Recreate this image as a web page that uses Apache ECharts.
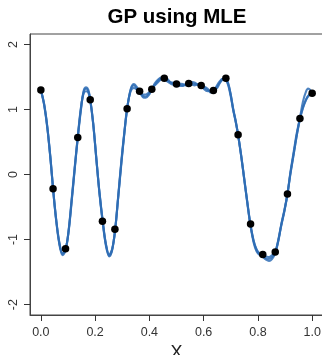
<!DOCTYPE html>
<html>
<head>
<meta charset="utf-8">
<script src="https://cdn.jsdelivr.net/npm/echarts@6/dist/echarts.min.js"></script>
<style>html,body{margin:0;padding:0;background:#fff}#c{width:322px;height:355px}</style>
</head>
<body>
<div id="c"></div>
<script>
// Observed data points (x = i/22)
var pointX = [0.000,0.045,0.091,0.136,0.182,0.227,0.273,0.318,0.364,0.409,0.455,0.500,0.545,0.591,0.636,0.682,0.727,0.773,0.818,0.864,0.909,0.955,1.000];
var pointY = [1.30,-0.22,-1.14,0.57,1.15,-0.72,-0.84,1.01,1.28,1.31,1.48,1.39,1.40,1.37,1.29,1.48,0.61,-0.76,-1.23,-1.19,-0.30,0.86,1.25];

// Fitted GP curves
var curveX = [0.000,0.012,0.024,0.036,0.045,0.056,0.068,0.080,0.091,0.102,0.114,0.125,0.136,0.148,0.158,0.167,0.175,0.182,0.193,0.205,0.216,0.228,0.240,0.252,0.263,0.274,0.285,0.297,0.308,0.318,0.331,0.343,0.355,0.364,0.376,0.387,0.398,0.409,0.420,0.432,0.443,0.454,0.466,0.477,0.489,0.500,0.511,0.523,0.534,0.545,0.557,0.568,0.580,0.591,0.602,0.614,0.625,0.636,0.648,0.659,0.670,0.680,0.690,0.700,0.709,0.718,0.727,0.739,0.750,0.761,0.772,0.784,0.795,0.807,0.819,0.830,0.841,0.852,0.864,0.875,0.886,0.898,0.909,0.920,0.932,0.943,0.955,0.966,0.977,0.985,0.993,1.000];
var curveA = [1.30,1.08,0.72,0.22,-0.22,-0.68,-1.05,-1.22,-1.16,-0.88,-0.38,0.10,0.57,1.02,1.27,1.32,1.28,1.15,0.78,0.22,-0.28,-0.72,-1.08,-1.25,-1.15,-0.84,-0.35,0.20,0.65,1.01,1.30,1.37,1.32,1.27,1.21,1.20,1.24,1.31,1.38,1.44,1.47,1.47,1.45,1.42,1.40,1.39,1.38,1.37,1.38,1.40,1.40,1.39,1.38,1.36,1.33,1.30,1.28,1.29,1.34,1.41,1.46,1.47,1.40,1.22,1.00,0.82,0.61,0.27,-0.08,-0.43,-0.76,-1.02,-1.16,-1.23,-1.26,-1.29,-1.30,-1.27,-1.20,-1.02,-0.78,-0.55,-0.30,0.02,0.32,0.60,0.86,1.03,1.15,1.21,1.24,1.25];
var curveB = [1.30,1.07,0.71,0.21,-0.22,-0.69,-1.07,-1.24,-1.17,-0.87,-0.36,0.12,0.58,1.04,1.25,1.28,1.26,1.14,0.77,0.21,-0.29,-0.74,-1.10,-1.26,-1.16,-0.84,-0.34,0.22,0.66,1.02,1.28,1.33,1.30,1.27,1.23,1.23,1.26,1.31,1.40,1.46,1.49,1.48,1.43,1.40,1.38,1.39,1.40,1.39,1.37,1.40,1.42,1.41,1.37,1.35,1.35,1.32,1.26,1.28,1.36,1.43,1.47,1.46,1.38,1.20,0.99,0.81,0.61,0.26,-0.09,-0.44,-0.77,-1.04,-1.18,-1.24,-1.25,-1.26,-1.27,-1.24,-1.19,-1.01,-0.77,-0.54,-0.30,0.04,0.35,0.63,0.87,1.12,1.27,1.32,1.30,1.25];
var curveC = [1.30,1.09,0.73,0.23,-0.21,-0.67,-1.04,-1.21,-1.15,-0.89,-0.40,0.09,0.56,1.00,1.29,1.34,1.30,1.16,0.79,0.23,-0.27,-0.71,-1.07,-1.23,-1.14,-0.85,-0.36,0.18,0.64,1.00,1.31,1.39,1.34,1.27,1.19,1.18,1.22,1.31,1.37,1.42,1.46,1.49,1.47,1.42,1.41,1.39,1.36,1.36,1.39,1.40,1.38,1.37,1.39,1.37,1.31,1.28,1.30,1.30,1.32,1.40,1.47,1.48,1.41,1.23,1.01,0.83,0.61,0.28,-0.07,-0.42,-0.75,-1.01,-1.15,-1.22,-1.27,-1.31,-1.33,-1.30,-1.21,-1.03,-0.79,-0.56,-0.30,0.01,0.31,0.59,0.85,1.02,1.14,1.20,1.23,1.25];

var xTicks = [0, 0.2, 0.4, 0.6, 0.8, 1.0];
var yTicks = [-2, -1, 0, 1, 2];

function pairs(xs, ys) { return xs.map(function (x, i) { return [x, ys[i]]; }); }

var lineColor = '#2f6db5';
function curveSeries(ys) {
  return {
    type: 'line', data: pairs(curveX, ys), smooth: 0.35, showSymbol: false,
    lineStyle: { color: lineColor, width: 2.1, opacity: 0.85 }, silent: true, z: 2
  };
}

var chart = echarts.init(document.getElementById('c'), null, { renderer: 'canvas' });
chart.setOption({
  animation: false,
  title: {
    text: 'GP using MLE', left: 172, top: 2, textAlign: 'center', padding: 5,
    textStyle: { fontFamily: 'Liberation Sans', fontWeight: 'bold', fontSize: 20.5, color: '#000' }
  },
  grid: { left: 30, top: 34, width: 293, height: 281, show: true, borderColor: '#444', borderWidth: 1,
    containLabel: false, outerBoundsMode: 'none' },
  xAxis: {
    type: 'value', min: -0.04, max: 1.04,
    name: 'X', nameLocation: 'middle', nameGap: 25,
    nameTextStyle: { fontFamily: 'Liberation Sans', fontSize: 18, color: '#222' },
    axisLine: { show: true, onZero: false, lineStyle: { color: '#444', width: 1 } },
    axisTick: { show: true, inside: false, length: 6, lineStyle: { color: '#333', width: 1 }, customValues: xTicks },
    axisLabel: { margin: 11, fontFamily: 'Liberation Sans', fontSize: 12.5, color: '#333', customValues: xTicks,
      formatter: function (v) { return v.toFixed(1); } },
    splitLine: { show: false }
  },
  yAxis: {
    type: 'value', min: -2.16, max: 2.16,
    axisLine: { show: true, onZero: false, lineStyle: { color: '#444', width: 1 } },
    axisTick: { show: true, inside: false, length: 6, lineStyle: { color: '#333', width: 1 }, customValues: yTicks },
    axisLabel: { margin: 10, rotate: 90, fontFamily: 'Liberation Sans', fontSize: 12.5, color: '#333', customValues: yTicks,
      formatter: function (v) { return String(v); } },
    splitLine: { show: false }
  },
  series: [
    curveSeries(curveA),
    curveSeries(curveB),
    curveSeries(curveC),
    {
      type: 'scatter', data: pairs(pointX, pointY), symbolSize: 7.5,
      itemStyle: { color: '#000', opacity: 1 }, z: 5, silent: true
    }
  ]
});
</script>
</body>
</html>
